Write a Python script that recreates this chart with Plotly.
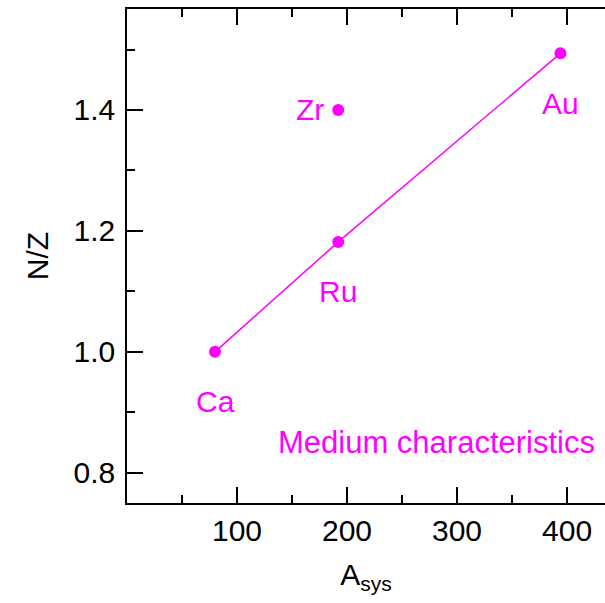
import plotly.graph_objects as go

# Data
systems = ["Ca", "Ru", "Au"]
a_sys = [80, 192, 394]
n_over_z = [1.0, 1.1818, 1.4937]

zr_label = ["Zr"]
zr_a = [192]
zr_nz = [1.4]

note_text = "Medium characteristics"

x_ticks = [100, 200, 300, 400]
y_ticks = [0.8, 1.0, 1.2, 1.4]

MAG = "#ff00ff"
FONT = "Liberation Sans, Arial, Helvetica, sans-serif"

fig = go.Figure()
fig.add_trace(go.Scatter(x=a_sys, y=n_over_z, mode="lines+markers",
                         line=dict(color=MAG, width=1.5),
                         marker=dict(color=MAG, size=12), showlegend=False))
fig.add_trace(go.Scatter(x=zr_a, y=zr_nz, mode="markers",
                         marker=dict(color=MAG, size=12), showlegend=False))

for name, x, y in zip(systems, a_sys, n_over_z):
    fig.add_annotation(x=x, y=y, text=name, showarrow=False, yshift=-50,
                       font=dict(color=MAG, size=30, family=FONT))
for name, x, y in zip(zr_label, zr_a, zr_nz):
    fig.add_annotation(x=x, y=y, text=name, showarrow=False, xshift=-12,
                       xanchor="right", font=dict(color=MAG, size=30, family=FONT))

fig.add_annotation(xref="paper", yref="paper", x=0.984, y=0.122, text=note_text,
                   showarrow=False, xanchor="right", yanchor="middle",
                   font=dict(color=MAG, size=31, family=FONT))

axis_common = dict(showgrid=False, zeroline=False, linecolor="black", linewidth=1.5,
                   ticks="inside", ticklen=16, tickwidth=1.5, tickcolor="black",
                   tickfont=dict(size=30, color="black", family=FONT))

fig.update_xaxes(range=[0, 434.5], tickvals=x_ticks, mirror="ticks", **axis_common,
                 minor=dict(ticks="inside", ticklen=8, tickwidth=1.5, tickcolor="black",
                            dtick=50, tick0=0),
                 title=dict(text="A<sub>sys</sub>", font=dict(size=30, color="black", family=FONT),
                            standoff=18))
fig.update_yaxes(range=[0.75, 1.567], tickvals=y_ticks, tickformat=".1f", mirror=False,
                 ticklabelstandoff=4, **axis_common,
                 minor=dict(ticks="inside", ticklen=8, tickwidth=1.5, tickcolor="black",
                            dtick=0.1, tick0=0.8),
                 title=dict(text="N/Z", font=dict(size=30, color="black", family=FONT),
                            standoff=16))

fig.update_layout(width=605, height=603, margin=dict(l=127, r=0, t=9, b=100),
                  plot_bgcolor="white", paper_bgcolor="white",
                  font=dict(family=FONT))

# remove the default page margin so the figure fills the 605x603 window exactly
fig.write_html("out.html", config={"displayModeBar": False},
               post_script="document.body.style.margin='0';document.body.style.overflow='hidden';")
